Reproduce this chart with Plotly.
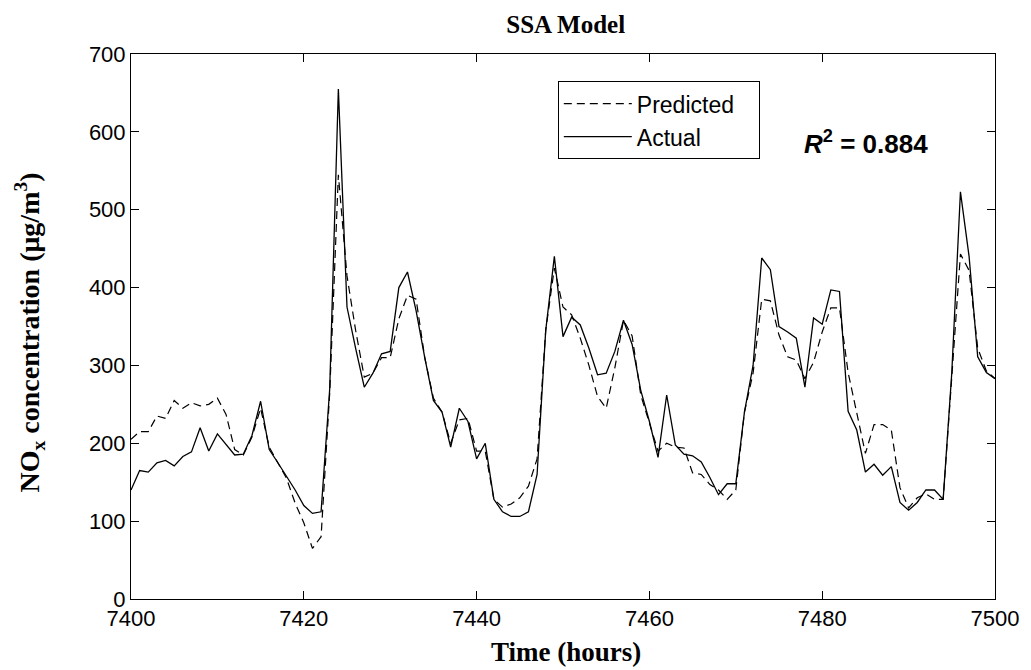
import plotly.graph_objects as go

# Hourly NOx concentrations, hours 7400-7500
hours = list(range(7400, 7501))

actual = [
    140, 165, 163, 175, 178, 171, 183, 189, 220, 190,   # 7400-7409
    212, 198, 185, 186, 210, 254, 192, 175, 158, 140,   # 7410-7419
    120, 110, 112, 270, 655, 375, 322, 272, 290, 315,   # 7420-7429
    318, 400, 420, 370, 310, 255, 240, 195, 245, 228,   # 7430-7439
    180, 200, 128, 112, 106, 106, 112, 160, 345, 440,   # 7440-7449
    337, 362, 352, 322, 288, 290, 318, 358, 327, 268,   # 7450-7459
    228, 182, 262, 198, 186, 184, 176, 156, 134, 148,   # 7460-7469
    148, 240, 300, 438, 423, 350, 343, 335, 272, 361,   # 7470-7479
    353, 397, 395, 241, 217, 163, 173, 159, 170, 124,   # 7480-7489
    114, 124, 140, 140, 128, 291, 523, 440, 311, 291,   # 7490-7499
    283,                                                # 7500
]

predicted = [
    205, 215, 215, 235, 232, 255, 245, 252, 248, 250,   # 7400-7409
    258, 237, 192, 185, 208, 245, 195, 175, 155, 123,   # 7410-7419
    98, 65, 80, 265, 545, 415, 345, 285, 290, 310,      # 7420-7429
    310, 360, 390, 385, 310, 258, 240, 200, 230, 232,   # 7430-7439
    190, 190, 128, 118, 122, 130, 145, 180, 345, 425,   # 7440-7449
    375, 365, 335, 300, 260, 245, 297, 358, 338, 262,   # 7450-7459
    225, 190, 200, 195, 194, 162, 160, 147, 140, 128,   # 7460-7469
    140, 240, 290, 385, 383, 339, 311, 307, 283, 304,   # 7470-7479
    343, 374, 374, 291, 239, 187, 224, 224, 217, 143,   # 7480-7489
    117, 130, 135, 128, 128, 291, 443, 422, 322, 293,   # 7490-7499
    283,                                                # 7500
]

x_ticks = [7400, 7420, 7440, 7460, 7480, 7500]
y_ticks = [0, 100, 200, 300, 400, 500, 600, 700]

sans = "Liberation Sans, Arial, sans-serif"
serif = "Liberation Serif, Times New Roman, serif"
pad = "\u00a0" * 3  # trailing room inside the legend box

fig = go.Figure()
fig.add_trace(go.Scatter(
    x=hours, y=predicted, mode="lines", name="Predicted" + pad,
    line=dict(color="black", width=1.2, dash="8px,5px"),
))
fig.add_trace(go.Scatter(
    x=hours, y=actual, mode="lines", name="Actual" + pad,
    line=dict(color="black", width=1.3),
))

axis_common = dict(
    showgrid=False, zeroline=False,
    showline=True, linecolor="black", linewidth=1,
    mirror="ticks", ticks="inside", ticklen=8, tickcolor="black",
    tickfont=dict(family=sans, size=22, color="black"),
)

fig.update_layout(
    width=1031, height=670,
    margin=dict(l=131, r=31, t=54, b=71),
    paper_bgcolor="white", plot_bgcolor="white",
    title=dict(
        text="SSA Model", x=0.5487, xanchor="center", y=0.964, yanchor="middle",
        font=dict(family=serif, size=25, color="black", weight="bold"),
    ),
    xaxis=dict(range=[7400, 7500], tickvals=x_ticks, **axis_common),
    yaxis=dict(range=[0, 700], tickvals=y_ticks, **axis_common),
    legend=dict(
        x=0.494, y=0.95, xanchor="left", yanchor="top",
        bgcolor="white", bordercolor="black", borderwidth=1,
        font=dict(family=sans, size=23, color="black"),
        tracegroupgap=0, itemwidth=68,
    ),
    showlegend=True,
    annotations=[
        dict(
            text="<b><i>R</i><sup>2</sup> = 0.884</b>",
            xref="paper", yref="paper", x=0.851, y=0.838,
            xanchor="center", yanchor="middle", showarrow=False,
            font=dict(family=sans, size=26, color="black"),
        ),
        dict(
            text="Time (hours)",
            xref="paper", yref="paper", x=0.503, y=0, yshift=-53,
            xanchor="center", yanchor="middle", showarrow=False,
            font=dict(family=serif, size=27, color="black", weight="bold"),
        ),
        dict(
            text="NO<sub>x</sub> concentration (\u03bcg/m<sup>3</sup>)",
            xref="paper", yref="paper", x=0, y=0.489, xshift=-101,
            xanchor="center", yanchor="middle", showarrow=False, textangle=-90,
            font=dict(family=serif, size=28, color="black", weight="bold"),
        ),
    ],
)

fig.write_html("out.html")
